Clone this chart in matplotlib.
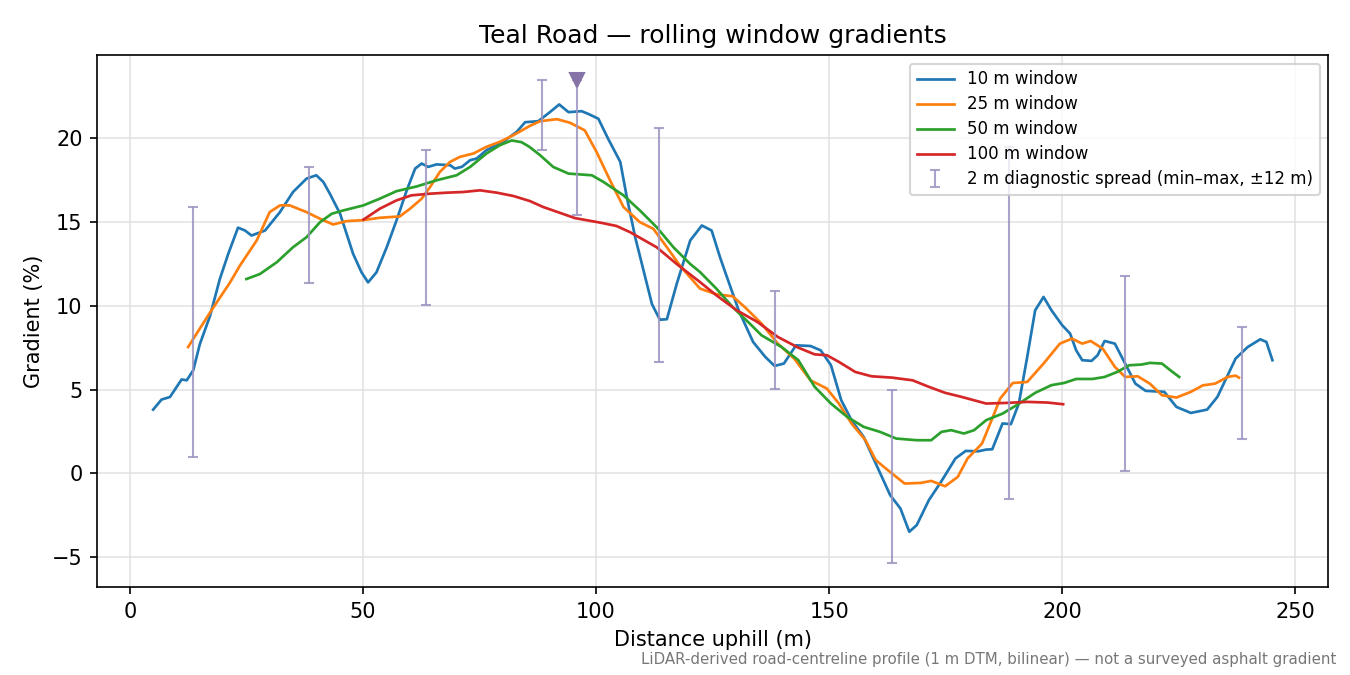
import matplotlib
matplotlib.use("Agg")
import matplotlib.pyplot as plt

# --- data ---

# 10 m window
x10 = [5, 6.8, 8.6, 11.1, 12.2, 13.6, 15, 17.2, 19.3, 21.1, 23.2, 24.7, 26.1, 29, 32.2, 35, 37.9, 40,
       41.5, 42.9, 45.1, 47.9, 49.7, 51.1, 52.9, 55.1, 57.2, 59.4, 61.2, 62.6, 64, 65.8, 68.7, 69.7,
       71.2, 73, 74.4, 76.5, 80.1, 83, 84.8, 87.6, 90.1, 92.1, 94.1, 96.9, 98.3, 100.5, 102.6, 105.2,
       106.6, 108.4, 110.2, 112, 113.7, 115.2, 117.3, 120.2, 122.7, 124.8, 126.6, 127.6, 130.6, 133.7,
       136.3, 138.3, 140.3, 142.9, 146, 148.2, 150.4, 152.6, 154.8, 157.4, 160, 163.1, 165.3, 167.2,
       168.8, 171.4, 174, 177.1, 179.3, 182, 183.7, 185, 187.2, 189, 190.7, 192.5, 194.2, 196, 197.7,
       200, 201.7, 203, 204.3, 206.3, 207.6, 209.1, 211.3, 213.5, 215.7, 217.9, 221.9, 224.5, 227.6,
       231.1, 233.3, 235.5, 237.2, 239.8, 242.5, 243.8, 245.1]
g10 = [3.8, 4.4, 4.55, 5.6, 5.55, 6.15, 7.7, 9.4, 11.6, 13.1, 14.67, 14.5, 14.2, 14.5, 15.6, 16.8, 17.6, 17.8,
       17.4, 16.7, 15.5, 13.1, 12.0, 11.4, 12.0, 13.5, 15.1, 16.9, 18.2, 18.5, 18.3, 18.45, 18.4, 18.2,
       18.3, 18.7, 18.8, 19.3, 19.8, 20.4, 20.97, 21.03, 21.57, 22.03, 21.57, 21.63, 21.47, 21.18, 19.98, 18.6,
       16.5, 14.1, 12.1, 10.1, 9.17, 9.2, 11.3, 13.9, 14.8, 14.5, 12.9, 12.1, 9.73, 7.84,
       6.95, 6.41, 6.55, 7.64, 7.6, 7.34, 6.45, 4.36, 3.17, 2.17, 0.58, -1.31, -2.11, -3.5,
       -3.1, -1.61, -0.52, 0.88, 1.33, 1.31, 1.41, 1.43, 2.97, 2.93, 4.16, 6.95, 9.73, 10.53, 9.73,
       8.84, 8.34, 7.34, 6.75, 6.71, 7.05, 7.9, 7.74, 6.55, 5.35, 4.92, 4.86, 3.96, 3.6,
       3.8, 4.56, 5.85, 6.85, 7.54, 8.0, 7.84, 6.75]

# 25 m window
x25 = [12.5, 17.5, 21.5, 23.6, 27.2, 30, 32.2, 34.3, 37.9, 40.8, 43.6, 46.5, 50, 53.6, 57.9, 60.1, 62.6,
       64.4, 66.5, 68.7, 70.8, 73.7, 76.5, 79.4, 82.3, 85.8, 88, 91.6, 94.4, 97.6, 100.1, 103, 105.9,
       109.4, 112.3, 115.2, 118, 122.3, 125.8, 129.3, 131.9, 135.5, 139, 142.5, 146, 149.5, 152.1,
       154.8, 157.8, 160, 162.6, 166.2, 169.7, 171.9, 174.9, 177.6, 179.7, 182.8, 185, 186.7, 189.4,
       192.5, 196, 199.5, 202.1, 204.3, 206.1, 208.7, 211.3, 213.5, 216.2, 218.8, 221.4, 224.5, 227.6,
       230.2, 232.8, 235.5, 237.2, 237.9]
g25 = [7.54, 9.73, 11.4, 12.4, 13.9, 15.6, 16.0, 16.0, 15.6, 15.2, 14.86, 15.06, 15.12, 15.26, 15.34, 15.8, 16.4,
       17.1, 18.0, 18.6, 18.9, 19.1, 19.5, 19.8, 20.2, 20.75, 21.03, 21.15, 20.94, 20.48, 19.2, 17.5, 15.9,
       15.0, 14.6, 13.5, 12.4, 11.03, 10.69, 10.57, 9.93, 8.94, 7.74, 6.85, 5.55, 5.06, 4.16,
       2.97, 1.97, 0.78, 0.18, -0.62, -0.58, -0.46, -0.78, -0.22, 0.88, 1.77, 3.27, 4.46, 5.39,
       5.45, 6.55, 7.74, 8.04, 7.74, 7.9, 7.44, 6.35, 5.75, 5.79, 5.35, 4.66, 4.52, 4.86,
       5.25, 5.35, 5.75, 5.83, 5.71]

# 50 m window
x50 = [25, 27.9, 31.5, 35, 37.9, 40.8, 43.3, 45.8, 50.1, 53.6, 57.2, 61.5, 65.8, 70.1, 73, 76.5, 79.4,
       81.9, 84, 85.7, 88, 90.8, 94.1, 99.1, 101.6, 105.9, 109.4, 113, 116.6, 120.2, 122.3, 125.8,
       129.3, 133.7, 135.5, 139.8, 143.4, 146.9, 150.4, 153.9, 157.4, 160.9, 164.4, 168.8, 171.9,
       174.1, 176.2, 178.9, 181.1, 183.7, 187.2, 190.2, 194.2, 197.7, 200.4, 203, 206.5, 209.1, 211.8,
       214.4, 217, 218.8, 221.4, 223.2, 225.1]
g50 = [11.6, 11.9, 12.6, 13.5, 14.1, 15.0, 15.5, 15.7, 16.0, 16.4, 16.85, 17.13, 17.5, 17.8, 18.3, 19.1, 19.6,
       19.88, 19.78, 19.5, 19.0, 18.3, 17.9, 17.8, 17.4, 16.6, 15.7, 14.7, 13.5, 12.5, 12.02, 11.03,
       9.93, 8.74, 8.24, 7.54, 6.75, 5.16, 4.16, 3.36, 2.77, 2.47, 2.07, 1.97, 1.97,
       2.47, 2.57, 2.37, 2.57, 3.17, 3.56, 4.06, 4.8, 5.26, 5.39, 5.63, 5.63, 5.75, 6.05,
       6.45, 6.49, 6.59, 6.55, 6.15, 5.75]

# 100 m window
x100 = [50.1, 53.6, 57.2, 60.4, 64.4, 68, 71.5, 75.1, 78.7, 82.3, 85.8, 88.7, 95.5, 100.9, 104.4, 107.3,
        113, 117.3, 122.3, 125.8, 130.2, 134.6, 139, 143.4, 146.9, 149.5, 152.1, 155.6, 159.1, 163.5,
        167.9, 171.4, 174.9, 178.4, 183.7, 188.1, 192.5, 196.9, 200.2]
g100 = [15.15, 15.8, 16.3, 16.6, 16.7, 16.76, 16.8, 16.9, 16.76, 16.56, 16.26, 15.9, 15.24, 14.97, 14.77, 14.4,
        13.5, 12.5, 11.42, 10.63, 9.73, 9.04, 8.14, 7.5, 7.1, 7.05, 6.65, 6.05, 5.79, 5.71,
        5.55, 5.16, 4.8, 4.56, 4.16, 4.2, 4.26, 4.22, 4.12]

# 2 m diagnostic spread (min-max over +-12 m)
spread_x = [13.5, 38.5, 63.5, 88.5, 96, 113.5, 138.5, 163.5, 188.5, 213.5, 238.5]
spread_lo = [0.96, 11.34, 10.03, 19.28, 15.4, 6.63, 5.01, -5.37, -1.55, 0.12, 2.03]
spread_hi = [15.88, 18.27, 19.28, 23.52, 23.5, 20.6, 10.87, 4.96, 19.5, 11.76, 8.72]

steepest_x = 96
steepest_g = 23.5

# --- plot ---
fig, ax = plt.subplots(figsize=(9, 4.5), dpi=150)
fig.subplots_adjust(left=0.072, right=0.984, top=0.918, bottom=0.130)

ax.plot(x10, g10, color="#1f77b4", lw=1.3, label="10 m window")
ax.plot(x25, g25, color="#ff7f0e", lw=1.3, label="25 m window")
ax.plot(x50, g50, color="#2ca02c", lw=1.3, label="50 m window")
ax.plot(x100, g100, color="#d62728", lw=1.3, label="100 m window")

mid = [(lo + hi) / 2 for lo, hi in zip(spread_lo, spread_hi)]
err = [[m - lo for m, lo in zip(mid, spread_lo)], [hi - m for m, hi in zip(mid, spread_hi)]]
ax.errorbar(spread_x, mid, yerr=err, fmt="none", ecolor="#9d93c0", elinewidth=1.0,
            capsize=2.5, alpha=0.85, label="2 m diagnostic spread (min\u2013max, \u00b112 m)")
ax.plot([steepest_x], [steepest_g], marker="v", color="#8674a8", markersize=6.5, ls="none")

ax.set_title("Teal Road \u2014 rolling window gradients", fontsize=12)
ax.set_xlabel("Distance uphill (m)", fontsize=10)
ax.set_ylabel("Gradient (%)", fontsize=10)
ax.grid(True, color="#dddddd", alpha=0.8, lw=0.8)
ax.set_axisbelow(True)
ax.legend(loc="upper right", fontsize=8, labelspacing=0.42, handlelength=2.25)

fig.text(0.99, 0.012, "LiDAR-derived road-centreline profile (1 m DTM, bilinear) \u2014 not a surveyed asphalt gradient",
         ha="right", va="bottom", fontsize=7.2, color="#777777")

fig.savefig("out.png", dpi=150)
